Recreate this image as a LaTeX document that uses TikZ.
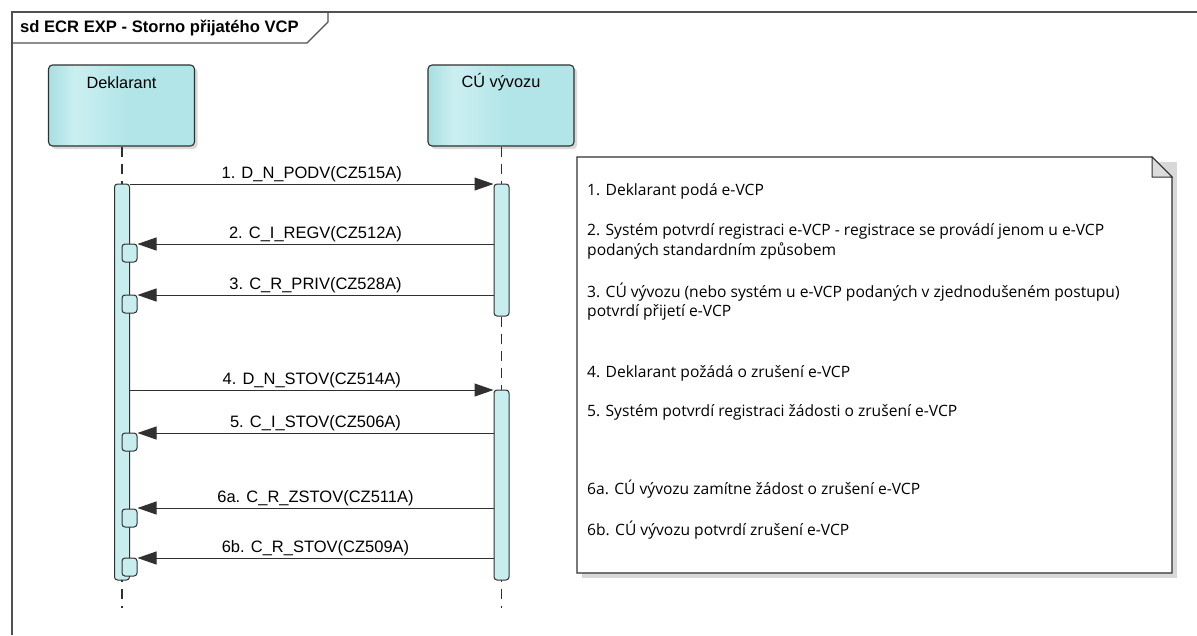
\documentclass[tikz,border=0pt]{standalone}
\usepackage{fontspec}
\setmainfont{Liberation Sans}
\newfontfamily\notefont{Open Sans}
\usetikzlibrary{arrows.meta,shadows}
\definecolor{hcA}{HTML}{A8DFE1}
\definecolor{hcB}{HTML}{CBEFF1}
\definecolor{hcC}{HTML}{B2E5E7}
\definecolor{barfill}{HTML}{C8EDEF}
\definecolor{linec}{HTML}{303030}
\definecolor{framec}{HTML}{505050}
\definecolor{shadowc}{HTML}{D8D8D8}
\definecolor{foldc}{HTML}{DCDCDC}
\pgfdeclarehorizontalshading{headshade}{100bp}{color(0bp)=(hcA); color(25bp)=(hcA); color(34bp)=(hcB); color(52bp)=(hcC); color(100bp)=(hcC)}
\begin{document}
\begin{tikzpicture}[x=1pt,y=-1pt,
  head/.style={draw=linec, line width=1.1pt, rounded corners=4pt, shading=headshade,
    minimum width=146pt, minimum height=81pt, inner sep=0pt,
    drop shadow={shadow xshift=3pt, shadow yshift=-3pt, fill=black, opacity=0.15}},
  headtxt/.style={font=\fontsize{16.3}{18}\selectfont, anchor=center, yshift=-18pt},
  life/.style={draw=linec, line width=1.1pt, dash pattern=on 10pt off 7pt},
  bar/.style={draw=linec, line width=1pt, fill=barfill, rounded corners=3pt,
    minimum width=15pt, inner sep=0pt},
  sbox/.style={bar, minimum height=18pt},
  msg/.style={draw=linec, line width=1pt, -{Triangle[length=19pt,width=13pt]}},
  lbl/.style={font=\fontsize{16.5}{18}\selectfont, midway, above, inner sep=1.5pt},
  note/.style={font=\notefont\fontsize{15.6}{18}\selectfont, anchor=west, inner sep=0pt},
]
\useasboundingbox (0,0) rectangle (1197,635);

% frame
\draw[framec, line width=1.4pt] (12,635) -- (12,12) -- (1197,12);
\draw[framec, line width=1.1pt] (12,43) -- (307,43) -- (328,22) -- (328,12);
\node[anchor=west, inner sep=0pt, font=\bfseries\fontsize{16.6}{18}\selectfont] (title) at (20,28.5) {sd ECR EXP - Storno přijatého VCP};

% lifeline heads
\node[head, label={[headtxt]north:Deklarant}] (D) at (121.5,105.5) {};
\node[head, label={[headtxt]north:CÚ vývozu}] (C) at (501,105.5) {};

% lifelines
\coordinate (Dend) at (122,608);
\coordinate (Cend) at (501.5,608);
\draw[life] (D.south -| Dend) -- (Dend);
\draw[life] (C.south -| Cend) -- (Cend);

% activation bars
\node[bar, minimum height=396pt] (aD) at (122,382) {};
\node[bar, minimum height=132pt] (aC1) at (501.5,250) {};
\node[bar, minimum height=190pt] (aC2) at (501.5,485) {};
\node[sbox] (s2) at (129.5,253) {};
\node[sbox] (s3) at (129.5,304) {};
\node[sbox] (s5) at (129.5,442) {};
\node[sbox] (s6a) at (129.5,518) {};
\node[sbox] (s6b) at (129.5,567) {};

% message levels
\coordinate (y1) at (0,184);
\coordinate (y2) at (0,244);
\coordinate (y3) at (0,295);
\coordinate (y4) at (0,390);
\coordinate (y5) at (0,433);
\coordinate (y6a) at (0,508);
\coordinate (y6b) at (0,558);

\draw[msg] (aD.east |- y1) -- node[lbl]{1. D\_N\_PODV(CZ515A)} (aC1.west |- y1);
\draw[msg] (aC1.west |- y2) -- node[lbl]{2. C\_I\_REGV(CZ512A)} (s2.east |- y2);
\draw[msg] (aC1.west |- y3) -- node[lbl]{3. C\_R\_PRIV(CZ528A)} (s3.east |- y3);
\draw[msg] (aD.east |- y4) -- node[lbl]{4. D\_N\_STOV(CZ514A)} (aC2.west |- y4);
\draw[msg] (aC2.west |- y5) -- node[lbl]{5. C\_I\_STOV(CZ506A)} (s5.east |- y5);
\draw[msg] (aC2.west |- y6a) -- node[lbl]{6a. C\_R\_ZSTOV(CZ511A)} (s6a.east |- y6a);
\draw[msg] (aC2.west |- y6b) -- node[lbl]{6b. C\_R\_STOV(CZ509A)} (s6b.east |- y6b);

% note
\fill[shadowc] (582,162) -- (1177,162) -- (1177,578) -- (582,578) -- cycle;
\draw[linec, line width=1.1pt, fill=white] (577,157) -- (1152,157) -- (1172,177) -- (1172,573) -- (577,573) -- cycle;
\draw[linec, line width=1pt, fill=foldc] (1152,157) -- (1152,177) -- (1172,177) -- cycle;

\node[note] (n1) at (587,191) {1. Deklarant podá e-VCP};
\node[note] (n2) at (587,231) {2. Systém potvrdí registraci e-VCP - registrace se provádí jenom u e-VCP};
\node[note] (n2b) at (587,251) {podaných standardním způsobem};
\node[note] (n3) at (587,292) {3. CÚ vývozu (nebo systém u e-VCP podaných v zjednodušeném postupu)};
\node[note] (n3b) at (587,312) {potvrdí přijetí e-VCP};
\node[note] (n4) at (587,373) {4. Deklarant požádá o zrušení e-VCP};
\node[note] (n5) at (587,412) {5. Systém potvrdí registraci žádosti o zrušení e-VCP};
\node[note] (n6a) at (587,489) {6a. CÚ vývozu zamítne žádost o zrušení e-VCP};
\node[note] (n6b) at (587,530) {6b. CÚ vývozu potvrdí zrušení e-VCP};
\end{tikzpicture}
\end{document}
